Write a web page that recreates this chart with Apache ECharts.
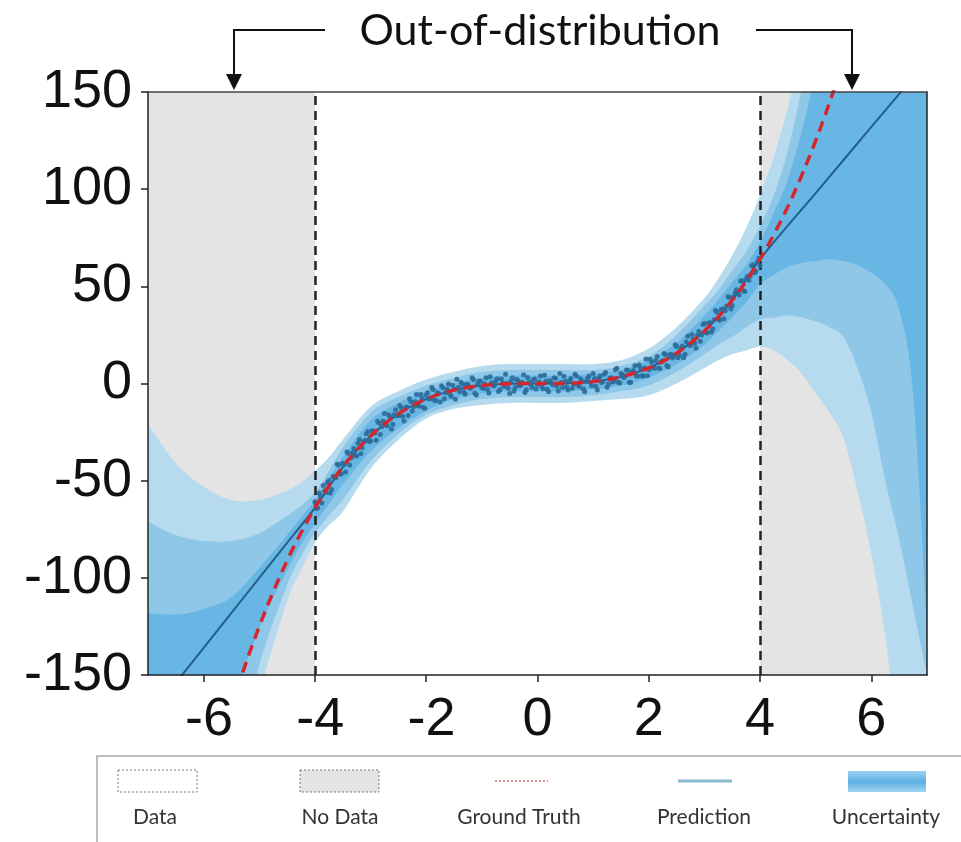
<!DOCTYPE html>
<html><head><meta charset="utf-8">
<script src="https://cdn.jsdelivr.net/npm/echarts@6/dist/echarts.min.js"></script>
<style>html,body{margin:0;padding:0;background:#fff}#c{width:961px;height:842px}</style>
</head><body><div id="c"></div>
<script>
// ---- axis ticks ----
const xTickValues = [-6, -4, -2, 0, 2, 4, 6];
const noDataRanges = [[-7, -4], [4, 7]];

// ---- uncertainty band boundaries ----
const bandX      = [-7, -6.5, -6, -5.5, -5, -4.5, -4.25, -4, -3.75, -3.5, -3, -2.5, -2, -1.5, -1, -0.5, 0, 0.5, 1, 1.5, 2, 2.5, 3, 3.25, 3.5, 3.75, 4, 4.25, 4.5, 4.75, 5, 5.25, 5.5, 5.75, 6, 6.25, 6.5, 6.75, 7];
const lightUpper = [-21, -41, -53, -60, -60, -55, -51, -45, -38, -29, -12, -4, 2, 6, 9, 10, 10, 10, 10, 12, 18, 29, 44, 54, 66, 80, 97, 117, 142, 170, 200, 230, 260, 280, 300, 320, 340, 360, 380];
const lightLower = [-420, -360, -300, -220, -160, -112, -96, -82, -73, -66, -44, -29, -18, -13, -11, -10, -10, -10, -9, -8, -6, 0, 8, 12, 15, 17, 19, 17, 12, 5, -5, -15, -28, -55, -88, -130, -190, -250, -310];
const midUpper   = [-71, -78, -81, -81, -77, -68, -63, -56, -45, -33, -15, -7, -1, 3, 6, 7, 7, 7, 7, 9, 14, 25, 40, 48, 58, 68, 81, 97, 120, 152, 190, 215, 240, 260, 280, 300, 320, 340, 360];
const midLower   = [-400, -340, -280, -205, -145, -104, -89, -77, -68, -60, -40, -26, -16, -11, -8, -7, -7, -7, -6, -4, -1, 6, 15, 20, 24, 29, 33, 34, 35, 34, 32, 29, 24, 8, -15, -50, -80, -115, -150];
const darkUpper  = [-118, -119, -116, -110, -95, -78, -69, -60, -49, -38, -19, -10, -4, 0, 3, 4, 4, 4, 5, 7, 12, 21, 35, 43, 52, 61, 73, 88, 105, 130, 160, 190, 220, 245, 270, 290, 310, 330, 350];
const darkLower  = [-360, -290, -230, -168, -126, -96, -83, -72, -62, -52, -35, -23, -14, -8, -5, -4, -4, -4, -3, -1, 3, 10, 20, 27, 34, 42, 51, 56, 60, 62, 63, 64, 63, 61, 57, 51, 38, -5, -125];

// ---- prediction ----
const predX = [-7, -6, -5, -4.5, -4, -3.5, -3, -2.5, -2, -1.5, -1, -0.5, 0, 0.5, 1, 1.5, 2, 2.5, 3, 3.5, 4, 5, 6, 7];
const predY = [-172, -136, -100, -82, -64, -43, -27, -15.6, -8, -3.4, -1, -0.1, 0, 0.1, 1, 3.4, 8, 15.6, 27, 43, 64, 98, 132, 166];

// ---- ground truth ----
const gtX = [-5.5, -5.25, -5, -4.75, -4.5, -4.25, -4, -3.75, -3.5, -3.25, -3, -2.75, -2.5, -2.25, -2, -1.75, -1.5, -1.25, -1, -0.75, -0.5, -0.25, 0, 0.25, 0.5, 0.75, 1, 1.25, 1.5, 1.75, 2, 2.25, 2.5, 2.75, 3, 3.25, 3.5, 3.75, 4, 4.25, 4.5, 4.75, 5, 5.25, 5.5];
const gtY = [-166.4, -144.7, -125, -107.2, -91.1, -76.8, -64, -52.7, -42.9, -34.3, -27, -20.8, -15.6, -11.4, -8, -5.4, -3.4, -2, -1, -0.4, -0.1, 0, 0, 0, 0.1, 0.4, 1, 2, 3.4, 5.4, 8, 11.4, 15.6, 20.8, 27, 34.3, 42.9, 52.7, 64, 76.8, 91.1, 107.2, 125, 144.7, 166.4];

// ---- observed data points ----
const dataPointsA = [[-4,-60.8],[-3.95,-64.1],[-3.9,-57.9],[-3.85,-52.5],[-3.8,-56.1],[-3.75,-49.9],[-3.7,-54.6],[-3.65,-47.9],[-3.6,-41.6],[-3.55,-46.7],[-3.5,-41],[-3.45,-45.5],[-3.4,-36],[-3.35,-38.4],[-3.3,-33.5],[-3.25,-37.3],[-3.2,-28.8],[-3.15,-33],[-3.1,-29.3],[-3.05,-24.7],[-3,-29.6],[-2.95,-24.5],[-2.9,-29.2],[-2.85,-20.3],[-2.8,-22.3],[-2.75,-15.4],[-2.7,-21.8],[-2.65,-17],[-2.6,-21],[-2.55,-13.5],[-2.5,-16.6],[-2.45,-12.5],[-2.4,-19.3],[-2.35,-12.1],[-2.3,-7.9],[-2.25,-14.2],[-2.2,-9.4],[-2.15,-11.4],[-2.1,-5.7],[-2.05,-12.3],[-2,-6],[-1.95,-8],[-1.9,-2.1],[-1.85,-8.6],[-1.8,-4.8],[-1.75,-9.5],[-1.7,-2.2],[-1.65,-4.7],[-1.6,-0.2],[-1.55,-6.6],[-1.5,-3],[-1.45,2.2],[-1.4,-4.3],[-1.35,-0.4],[-1.3,-5.5],[-1.25,-0.5],[-1.2,-2.4],[-1.15,1.9],[-1.1,-5.9],[-1.05,1.3],[-1,-2.1],[-0.95,-0.1],[-0.9,-3.1],[-0.85,3.5],[-0.8,-1],[-0.75,1.3],[-0.7,-4.1],[-0.65,2.3],[-0.6,-1.5],[-0.55,0.1],[-0.5,-5.2],[-0.45,2.9],[-0.4,-2.1],[-0.35,1.4],[-0.3,-0.9],[-0.25,4.5],[-0.2,-3.2],[-0.15,0.6],[-0.1,-1.9],[-0.05,2.3],[0,-0.4],[0.05,3.8],[0.1,-2.7],[0.15,1.1],[0.2,-4.3],[0.25,0.2],[0.3,2.9],[0.35,-1.4],[0.4,5.1],[0.45,-2.1],[0.5,1.1],[0.55,-3.3],[0.6,2.6],[0.65,-0.5],[0.7,3.9],[0.75,-1.5],[0.8,1.2],[0.85,-4.2],[0.9,2.7],[0.95,0.6],[1,5.2],[1.05,-1.4],[1.1,2.6],[1.15,0.5],[1.2,4.8],[1.25,-1.9],[1.3,2.7],[1.35,0.8],[1.4,7.1],[1.45,0.7],[1.5,5.2],[1.55,3.1],[1.6,6.9],[1.65,0.5],[1.7,5.8],[1.75,9.1],[1.8,3.7],[1.85,7.8],[1.9,3.8],[1.95,12.6],[2,7.1],[2.05,10.9],[2.1,7.9],[2.15,13.9],[2.2,7.7],[2.25,11.7],[2.3,14.8],[2.35,8.5],[2.4,15],[2.45,14.2],[2.5,19],[2.55,14.6],[2.6,19.3],[2.65,15],[2.7,24.3],[2.75,19.5],[2.8,22.8],[2.85,18.2],[2.9,26.9],[2.95,25],[3,30.9],[3.05,26],[3.1,31.2],[3.15,28.1],[3.2,37.6],[3.25,33.2],[3.3,37.9],[3.35,33.3],[3.4,39.9],[3.45,44.4],[3.5,40.2],[3.55,46.6],[3.6,46.3],[3.65,52.8],[3.7,47.7],[3.75,53.8],[3.8,53.1],[3.85,60.6],[3.9,57],[3.95,62.5],[4,60.6]];
const dataPointsB = [[-3.975,-64.3],[-3.925,-56.4],[-3.875,-61.5],[-3.825,-55.2],[-3.775,-50.9],[-3.725,-56.4],[-3.675,-48],[-3.625,-48.5],[-3.575,-41.9],[-3.525,-46.4],[-3.475,-41.8],[-3.425,-35.2],[-3.375,-41.9],[-3.325,-35.5],[-3.275,-37],[-3.225,-30.8],[-3.175,-36.1],[-3.125,-30.1],[-3.075,-25.9],[-3.025,-29.9],[-2.975,-24.5],[-2.925,-25.5],[-2.875,-19.4],[-2.825,-26.3],[-2.775,-19.4],[-2.725,-21.4],[-2.675,-16.1],[-2.625,-23.4],[-2.575,-16.1],[-2.525,-16.5],[-2.475,-11.3],[-2.425,-16.8],[-2.375,-12.7],[-2.325,-16.5],[-2.275,-9.4],[-2.225,-12],[-2.175,-5.6],[-2.125,-11.6],[-2.075,-7.7],[-2.025,-12.7],[-1.975,-4.8],[-1.925,-7.9],[-1.875,-3.1],[-1.825,-8.8],[-1.775,-5.1],[-1.725,-1.1],[-1.675,-7.8],[-1.625,-2.9],[-1.575,-5.5],[-1.525,-0.9],[-1.475,-8.1],[-1.425,-2],[-1.375,0.7],[-1.325,-4.4],[-1.275,-0.4],[-1.225,-2.1],[-1.175,3],[-1.125,-5],[-1.075,-0.4],[-1.025,1.1],[-0.975,-2.6],[-0.925,2.9],[-0.875,-4.9],[-0.825,0.4],[-0.775,-1.1],[-0.725,2.4],[-0.675,-3.2],[-0.625,0.2],[-0.575,4.7],[-0.525,-2.4],[-0.475,1.2],[-0.425,-4],[-0.375,2],[-0.325,-1],[-0.275,0.7],[-0.225,-4.6],[-0.175,3.1],[-0.125,-0.2],[-0.075,1.9],[-0.025,-2.8],[0.025,0.8],[0.075,-1.5],[0.125,4.3],[0.175,-3],[0.225,1.6],[0.275,-0.7],[0.325,2.7],[0.375,-3.9],[0.425,0.6],[0.475,3.7],[0.525,-1.7],[0.575,1.4],[0.625,-2.4],[0.675,4.8],[0.725,-0.5],[0.775,2.4],[0.825,-2.8],[0.875,1],[0.925,3.8],[0.975,-1.2],[1.025,2.6],[1.075,-3.3],[1.125,3.8],[1.175,1],[1.225,5.7],[1.275,-0.2],[1.325,2.9],[1.375,1.3],[1.425,7.8],[1.475,0.2],[1.525,4.6],[1.575,3.8],[1.625,6.8],[1.675,0.5],[1.725,6.7],[1.775,4.1],[1.825,9.5],[1.875,4],[1.925,8],[1.975,4],[2.025,12.5],[2.075,8.1],[2.125,11.7],[2.175,7.9],[2.225,11.2],[2.275,15.4],[2.325,9.3],[2.375,14.8],[2.425,13.1],[2.475,19.9],[2.525,13.3],[2.575,17.7],[2.625,13.2],[2.675,21.4],[2.725,19.8],[2.775,25.2],[2.825,20.7],[2.875,24.8],[2.925,21.8],[2.975,30.3],[3.025,26.3],[3.075,31.1],[3.125,26.5],[3.175,32.8],[3.225,36.6],[3.275,32.6],[3.325,38.3],[3.375,37.5],[3.425,44.6],[3.475,38.4],[3.525,44.5],[3.575,48.3],[3.625,45.6],[3.675,52.9],[3.725,47.3],[3.775,55],[3.825,55.4],[3.875,61.1],[3.925,57.8],[3.975,64.4]];

// ---- text ----
const legendLabels = ['Data', 'No Data', 'Ground Truth', 'Prediction', 'Uncertainty'];
const titleText = 'Out-of-distribution';

const zip = (xs, ys) => xs.map((x, i) => [x, ys[i]]);

// smooth path through pixel points (Catmull-Rom -> cubic bezier)
function curvePath(p, move) {
  let s = move ? 'M ' + p[0][0] + ' ' + p[0][1] : '';
  for (let i = 0; i < p.length - 1; i++) {
    const p0 = p[i - 1] || p[i], p1 = p[i], p2 = p[i + 1], p3 = p[i + 2] || p[i + 1];
    const c1 = [p1[0] + (p2[0] - p0[0]) / 6, p1[1] + (p2[1] - p0[1]) / 6];
    const c2 = [p2[0] - (p3[0] - p1[0]) / 6, p2[1] - (p3[1] - p1[1]) / 6];
    s += ' C ' + c1[0] + ' ' + c1[1] + ' ' + c2[0] + ' ' + c2[1] + ' ' + p2[0] + ' ' + p2[1];
  }
  return s;
}
function bandSeries(name, lower, upper, color, z) {
  return {
    type: 'custom', name: name, coordinateSystem: 'cartesian2d', clip: true, z: z, silent: true,
    data: [[bandX[0], upper[0]]],
    renderItem: function (params, api) {
      const up = bandX.map((x, i) => api.coord([x, upper[i]]));
      const lo = bandX.map((x, i) => api.coord([x, lower[i]])).reverse();
      const d = curvePath(up, true) + ' L ' + lo[0][0] + ' ' + lo[0][1] + curvePath(lo, false) + ' Z';
      return { type: 'path', shape: { pathData: d }, style: { fill: color } };
    }
  };
}

const FONT = '"Liberation Sans", Arial, sans-serif';
const LFONT = 'Lato, "Open Sans", sans-serif';

const chart = echarts.init(document.getElementById('c'), null, { renderer: 'canvas' });
const option = {
  animation: false,
  backgroundColor: '#fff',
  grid: { left: 148, right: 34, top: 92, bottom: 167, containLabel: false },
  xAxis: [
    { type: 'value', min: -7, max: 7, z: 10,
      axisLine: { show: true, onZero: false, lineStyle: { color: '#222', width: 1.5 } },
      axisTick: { show: true, customValues: xTickValues, length: 7, lineStyle: { color: '#222', width: 1.5 } },
      axisLabel: { customValues: xTickValues, fontFamily: FONT, fontSize: 54, color: '#111', margin: 18,
        formatter: v => (v < 0 ? '\u2009' : '') + v },
      splitLine: { show: false } },
    { type: 'value', min: -7, max: 7, position: 'top', z: 10,
      axisLine: { show: true, onZero: false, lineStyle: { color: '#444', width: 1.5 } },
      axisTick: { show: false }, axisLabel: { show: false }, splitLine: { show: false } }
  ],
  yAxis: [
    { type: 'value', min: -150, max: 150, interval: 50, z: 10,
      axisLine: { show: true, onZero: false, lineStyle: { color: '#222', width: 1.5 } },
      axisTick: { show: true, length: 7, lineStyle: { color: '#222', width: 1.5 } },
      axisLabel: { fontFamily: FONT, fontSize: 54, color: '#111', margin: 16 },
      splitLine: { show: false } },
    { type: 'value', min: -150, max: 150, interval: 50, position: 'right', z: 10,
      axisLine: { show: true, onZero: false, lineStyle: { color: '#222', width: 1.5 } },
      axisTick: { show: false }, axisLabel: { show: false }, splitLine: { show: false } }
  ],
  series: [
    { type: 'line', name: 'nodata', data: [[-7, 0], [7, 0]], symbol: 'none', lineStyle: { opacity: 0 }, z: 1, silent: true,
      markArea: { silent: true, itemStyle: { color: '#e4e4e4' },
        data: noDataRanges.map(r => [{ xAxis: r[0] }, { xAxis: r[1] }]) } },
    bandSeries('light', lightLower, lightUpper, '#b6dbef', 2),
    bandSeries('mid', midLower, midUpper, '#8ec7e8', 3),
    bandSeries('dark', darkLower, darkUpper, '#68b6e4', 4),
    { type: 'line', name: 'Prediction', data: zip(predX, predY), symbol: 'none', smooth: 0.3, z: 5,
      lineStyle: { color: '#235f8c', width: 2 } },
    { type: 'scatter', name: 'Data', data: dataPointsA.concat(dataPointsB), symbolSize: 5, z: 6,
      itemStyle: { color: '#2b6b99', opacity: 0.9 } },
    { type: 'line', name: 'vlines', data: [[-7, 0], [7, 0]], symbol: 'none', lineStyle: { opacity: 0 }, z: 7, silent: true,
      markLine: { silent: true, symbol: 'none', label: { show: false },
        lineStyle: { color: '#222', width: 2.5, type: [9, 6] },
        data: [{ xAxis: -4 }, { xAxis: 4 }] } },
    { type: 'line', name: 'Ground Truth', data: zip(gtX, gtY), symbol: 'none', smooth: 0.4, z: 8,
      lineStyle: { color: '#d6262b', width: 3.5, type: [11, 7] } }
  ],
  graphic: [
    { type: 'text', x: 540, y: 31, style: { text: titleText, font: '43px ' + LFONT, fill: '#111', textAlign: 'center', textVerticalAlign: 'middle' } },
    { type: 'polyline', shape: { points: [[325, 30], [234, 30], [234, 76]] }, style: { stroke: '#111', lineWidth: 2, fill: null } },
    { type: 'polygon', shape: { points: [[226, 74], [242, 74], [234, 90]] }, style: { fill: '#111' } },
    { type: 'polyline', shape: { points: [[756, 30], [852, 30], [852, 76]] }, style: { stroke: '#111', lineWidth: 2, fill: null } },
    { type: 'polygon', shape: { points: [[844, 74], [860, 74], [852, 90]] }, style: { fill: '#111' } },
    { type: 'rect', shape: { x: 97, y: 756, width: 900, height: 120 }, style: { fill: '#fff', stroke: '#aaa', lineWidth: 1.5 } },
    { type: 'rect', shape: { x: 118, y: 770, width: 79, height: 22 }, style: { fill: '#fff', stroke: '#777', lineWidth: 1, lineDash: [2, 2] } },
    { type: 'rect', shape: { x: 300, y: 770, width: 79, height: 22 }, style: { fill: '#e4e4e4', stroke: '#777', lineWidth: 1, lineDash: [2, 2] } },
    { type: 'line', shape: { x1: 495, y1: 781, x2: 548, y2: 781 }, style: { stroke: '#e06a6a', lineWidth: 1.5, lineDash: [2, 2] } },
    { type: 'line', shape: { x1: 678, y1: 781, x2: 732, y2: 781 }, style: { stroke: '#8ab8cc', lineWidth: 3 } },
    { type: 'rect', shape: { x: 848, y: 771, width: 78, height: 21 },
      style: { fill: new echarts.graphic.LinearGradient(0, 0, 0, 1, [
        { offset: 0, color: '#9fd2f0' }, { offset: 0.5, color: '#5cb0e6' }, { offset: 1, color: '#9fd2f0' }]) } },
    ...[155, 340, 519, 704, 886].map((cx, i) => ({
      type: 'text', x: cx, y: 817,
      style: { text: legendLabels[i], font: '21px ' + LFONT, fill: '#333', textAlign: 'center', textVerticalAlign: 'middle' } }))
  ]
};
chart.setOption(option);
</script>
</body></html>
